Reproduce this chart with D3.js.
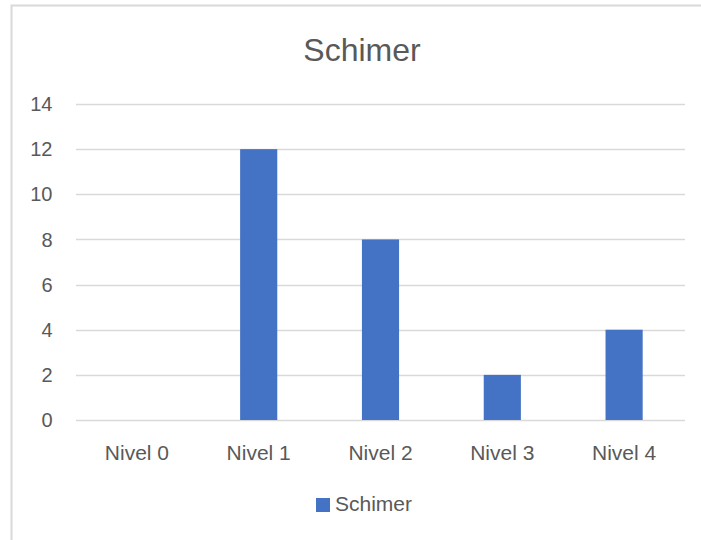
<!DOCTYPE html>
<html>
<head>
<meta charset="utf-8">
<script src="https://cdn.jsdelivr.net/npm/d3@7"></script>
<style>
  body { margin: 0; background: #fff; }
  text { font-family: "Liberation Sans", "DejaVu Sans", sans-serif; fill: #595959; }
</style>
</head>
<body>
<div id="chart"></div>
<script>
var categories = ["Nivel 0", "Nivel 1", "Nivel 2", "Nivel 3", "Nivel 4"]
var values = [0, 12, 8, 2, 4]
var yTicks = [0, 2, 4, 6, 8, 10, 12, 14]
var seriesName = "Schimer"

var W = 701, H = 540
var margin = {top: 104, right: 16, bottom: 120, left: 76},
    width = W - margin.left - margin.right,
    height = H - margin.top - margin.bottom

var svg = d3.select("#chart").append("svg")
    .attr("width", W)
    .attr("height", H)

// chart border
svg.append("rect")
    .attr("x", 11.5).attr("y", 5.5)
    .attr("width", 720).attr("height", 560)
    .attr("fill", "#fff")
    .attr("stroke", "#d9d9d9")
    .attr("stroke-width", 2)

var g = svg.append("g")
    .attr("transform", "translate(" + margin.left + "," + margin.top + ")")

var x = d3.scaleBand().domain(categories).range([0, width]).paddingInner(0.695).paddingOuter(0.3475)
var y = d3.scaleLinear().domain([0, 14]).range([height, 0])

// gridlines
g.selectAll(".grid")
  .data(yTicks)
  .enter().append("line")
    .attr("x1", 0).attr("x2", width)
    .attr("y1", function(d) { return Math.round(y(d)) + 0.5 })
    .attr("y2", function(d) { return Math.round(y(d)) + 0.5 })
    .attr("stroke", "#d9d9d9")
    .attr("stroke-width", 1.3)

// bars
g.selectAll(".bar")
  .data(values)
  .enter().append("rect")
    .attr("x", function(d, i) { return x(categories[i]) })
    .attr("y", function(d) { return y(d) })
    .attr("width", x.bandwidth())
    .attr("height", function(d) { return height - y(d) })
    .attr("fill", "#4472c4")

// y tick labels
g.selectAll(".ytick")
  .data(yTicks)
  .enter().append("text")
    .attr("x", -23.5)
    .attr("y", function(d) { return y(d) })
    .attr("dy", "0.36em")
    .style("text-anchor", "end")
    .style("font-size", "20px")
    .text(function(d) { return d })

// x labels
g.selectAll(".xtick")
  .data(categories)
  .enter().append("text")
    .attr("x", function(d) { return x(d) + x.bandwidth() / 2 })
    .attr("y", height + 40)
    .style("text-anchor", "middle")
    .style("font-size", "21px")
    .text(function(d) { return d })

// title
svg.append("text")
    .attr("x", 362)
    .attr("y", 61)
    .style("text-anchor", "middle")
    .style("font-size", "32px")
    .text(seriesName)

// legend
svg.append("rect")
    .attr("x", 316).attr("y", 498)
    .attr("width", 14).attr("height", 14)
    .attr("fill", "#4472c4")

svg.append("text")
    .attr("x", 335)
    .attr("y", 511)
    .style("font-size", "21px")
    .text(seriesName)
</script>
</body>
</html>
